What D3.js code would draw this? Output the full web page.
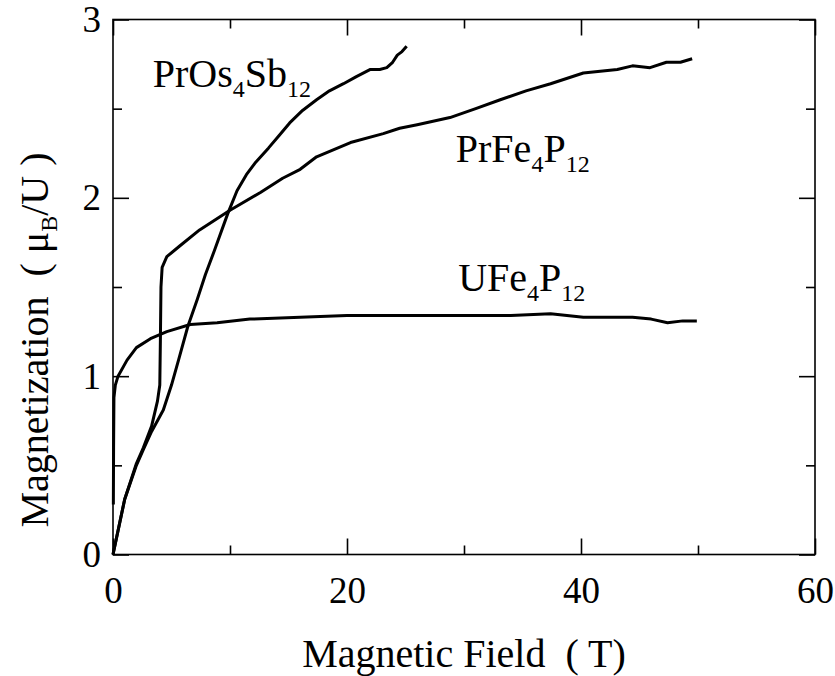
<!DOCTYPE html>
<html>
<head>
<meta charset="utf-8">
<script src="https://cdn.jsdelivr.net/npm/d3@7"></script>
<style>
  body { margin: 0; background: #fff; }
</style>
</head>
<body>
<div id="chart"></div>
<script>
// Magnetization curves
var prOsField = [0, 1, 2, 2.6, 3.3, 4.3, 5.0, 5.6, 6.4, 7.2, 7.9, 8.7, 9.8, 10.6, 11.4, 12.2, 13.3, 14.2, 15.1, 16.2, 17.4, 18.5, 19.7, 20.8, 22, 22.8, 23.4, 23.9, 24.3, 24.7, 25.1];
var prOsMag   = [0, 0.31, 0.5, 0.59, 0.69, 0.81, 0.95, 1.09, 1.28, 1.43, 1.57, 1.71, 1.91, 2.04, 2.13, 2.2, 2.28, 2.35, 2.42, 2.49, 2.55, 2.6, 2.64, 2.68, 2.72, 2.72, 2.73, 2.76, 2.80, 2.82, 2.85];

var prFeField = [0, 1, 2, 2.6, 3.3, 3.8, 4.0, 4.05, 4.1, 4.2, 4.6, 5.7, 7.4, 10, 12.6, 14.5, 16, 17.4, 20.3, 23.1, 24.5, 26, 28.8, 31, 33.1, 35.3, 37.4, 40.2, 43.1, 44.4, 45.9, 47.3, 48.5, 49.5];
var prFeMag   = [0, 0.31, 0.51, 0.6, 0.72, 0.86, 0.95, 1.2, 1.5, 1.61, 1.67, 1.73, 1.82, 1.93, 2.03, 2.11, 2.16, 2.23, 2.31, 2.36, 2.39, 2.41, 2.45, 2.5, 2.55, 2.6, 2.64, 2.70, 2.72, 2.74, 2.73, 2.76, 2.76, 2.78];

var uFeField = [0.03, 0.05, 0.08, 0.2, 0.43, 1.2, 2.0, 3.2, 4.6, 6.6, 8.9, 11.7, 16, 20, 25, 30, 34, 37.4, 40.2, 44.4, 46, 47.4, 48.7, 49.9];
var uFeMag   = [0.28, 0.6, 0.88, 0.95, 1.0, 1.09, 1.16, 1.21, 1.25, 1.29, 1.30, 1.32, 1.33, 1.34, 1.34, 1.34, 1.34, 1.35, 1.33, 1.33, 1.32, 1.30, 1.31, 1.31];

// ticks
var xMajor = [0, 20, 40, 60];
var xMinor = [10, 30, 50];
var yMajor = [0, 1, 2, 3];
var yMinor = [0.5, 1.5, 2.5];

// curve labels: [main, sub1, middle, sub2, field, magnetization]
var labels = [
  ["PrOs", "4", "Sb", "12", 3.4, 2.62],
  ["PrFe", "4", "P", "12", 29.3, 2.2],
  ["UFe", "4", "P", "12", 29.5, 1.48]
];

var serif = "'Liberation Serif', 'Times New Roman', Tinos, Times, 'DejaVu Serif', serif";

var svgWidth = 835;
var svgHeight = 676;
var margin = { top: 19.5, right: 20, bottom: 121.5, left: 113 };
var width = svgWidth - margin.left - margin.right;
var height = svgHeight - margin.top - margin.bottom;

var svg = d3.select('#chart').append('svg')
  .attr('width', svgWidth)
  .attr('height', svgHeight)
  .attr('font-family', serif);

var g = svg.append('g')
  .attr('transform', `translate(${margin.left}, ${margin.top})`);

var x = d3.scaleLinear().domain([0, 60]).range([0, width]);
var y = d3.scaleLinear().domain([0, 3]).range([height, 0]);

// frame
g.append('rect')
  .attr('width', width).attr('height', height)
  .attr('fill', 'none').attr('stroke', '#000').attr('stroke-width', 1.6);

function styleAxis(sel) {
  sel.attr('font-family', serif).attr('font-size', 37);
  sel.select('.domain').remove();
  sel.selectAll('line').attr('stroke', '#000').attr('stroke-width', 1.6);
  sel.selectAll('text').attr('fill', '#000');
}

// bottom axis with labels
g.append('g').attr('transform', `translate(0, ${height})`)
  .call(d3.axisBottom(x).tickValues(xMajor).tickSize(-16).tickPadding(22).tickFormat(d3.format('d')))
  .call(styleAxis)
  .selectAll('text').attr('dy', '0.71em');
g.append('g').attr('transform', `translate(0, ${height})`)
  .call(d3.axisBottom(x).tickValues(xMinor).tickSize(-9).tickFormat(''))
  .call(styleAxis);
// top axis
g.append('g')
  .call(d3.axisTop(x).tickValues(xMajor).tickSize(-16).tickFormat(''))
  .call(styleAxis);
g.append('g')
  .call(d3.axisTop(x).tickValues(xMinor).tickSize(-9).tickFormat(''))
  .call(styleAxis);

// left axis with labels
g.append('g')
  .call(d3.axisLeft(y).tickValues(yMajor).tickSize(-16).tickPadding(12).tickFormat(d3.format('d')))
  .call(styleAxis);
g.append('g')
  .call(d3.axisLeft(y).tickValues(yMinor).tickSize(-9).tickFormat(''))
  .call(styleAxis);
// right axis
g.append('g').attr('transform', `translate(${width}, 0)`)
  .call(d3.axisRight(y).tickValues(yMajor).tickSize(-16).tickFormat(''))
  .call(styleAxis);
g.append('g').attr('transform', `translate(${width}, 0)`)
  .call(d3.axisRight(y).tickValues(yMinor).tickSize(-9).tickFormat(''))
  .call(styleAxis);

// curves
var line = d3.line()
  .x(d => x(d[0]))
  .y(d => y(d[1]));

[[prOsField, prOsMag], [prFeField, prFeMag], [uFeField, uFeMag]].forEach(function(s) {
  g.append('path')
    .datum(d3.zip(s[0], s[1]))
    .attr('d', line)
    .attr('fill', 'none')
    .attr('stroke', '#000')
    .attr('stroke-width', 3)
    .attr('stroke-linejoin', 'round');
});

// curve labels with subscripts
labels.forEach(function(l) {
  var t = g.append('text')
    .attr('x', x(l[4]))
    .attr('y', y(l[5]))
    .attr('font-size', 40);
  t.append('tspan').text(l[0]);
  t.append('tspan').text(l[1]).attr('font-size', 24).attr('dy', 10);
  t.append('tspan').text(l[2]).attr('dy', -10);
  t.append('tspan').text(l[3]).attr('font-size', 24).attr('dy', 10);
});

// axis titles
svg.append('text')
  .attr('x', margin.left + width / 2)
  .attr('y', 667)
  .attr('text-anchor', 'middle')
  .attr('font-size', 40)
  .style('white-space', 'pre')
  .text('Magnetic Field  ( T)');

var yt = svg.append('text')
  .attr('transform', 'translate(48, 340) rotate(-90)')
  .attr('text-anchor', 'middle')
  .attr('font-size', 40)
  .style('white-space', 'pre');
yt.append('tspan').text('Magnetization  ( \u03bc');
yt.append('tspan').text('B').attr('font-size', 24).attr('dy', 9);
yt.append('tspan').text('/U )').attr('dy', -9);
</script>
</body>
</html>
